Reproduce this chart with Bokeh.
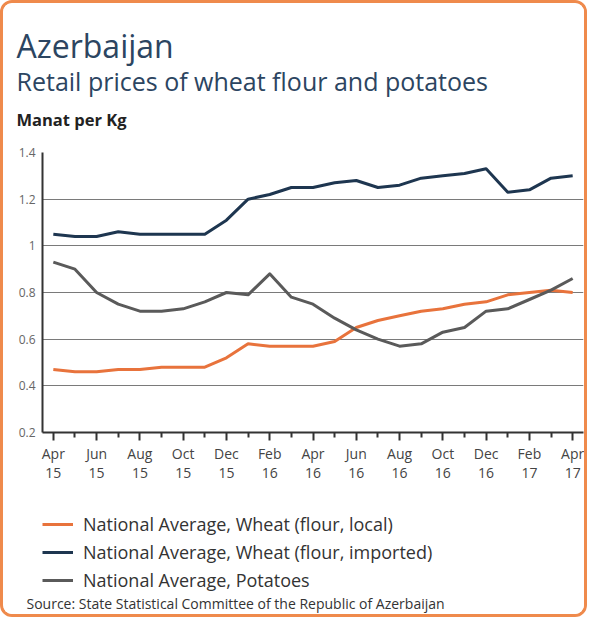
from bokeh.plotting import figure
from bokeh.layouts import column
from bokeh.models import (FixedTicker, LinearAxis, Legend, LegendItem,
                          Label, Range1d)
from bokeh.embed import file_html
from bokeh.resources import INLINE

# ---------------- data ----------------
months = list(range(25))  # Apr 2015 .. Apr 2017, monthly
tick_months = ["Apr", "Jun", "Aug", "Oct", "Dec", "Feb", "Apr",
               "Jun", "Aug", "Oct", "Dec", "Feb", "Apr"]
tick_years = ["15", "15", "15", "15", "15", "16", "16",
              "16", "16", "16", "16", "17", "17"]

wheat_local = [0.47, 0.46, 0.46, 0.47, 0.47, 0.48, 0.48, 0.48, 0.52, 0.58,
               0.57, 0.57, 0.57, 0.59, 0.65, 0.68, 0.70, 0.72, 0.73, 0.75,
               0.76, 0.79, 0.80, 0.81, 0.80]
wheat_imported = [1.05, 1.04, 1.04, 1.06, 1.05, 1.05, 1.05, 1.05, 1.11, 1.20,
                  1.22, 1.25, 1.25, 1.27, 1.28, 1.25, 1.26, 1.29, 1.30, 1.31,
                  1.33, 1.23, 1.24, 1.29, 1.30]
potatoes = [0.93, 0.90, 0.80, 0.75, 0.72, 0.72, 0.73, 0.76, 0.80, 0.79,
            0.88, 0.78, 0.75, 0.69, 0.64, 0.60, 0.57, 0.58, 0.63, 0.65,
            0.72, 0.73, 0.77, 0.81, 0.86]

y_ticks = [0.2, 0.4, 0.6, 0.8, 1.0, 1.2, 1.4]
y_tick_labels = ["0.2", "0.4", "0.6", "0.8", "1", "1.2", "1.4"]

series_names = ["National Average, Wheat (flour, local)",
                "National Average, Wheat (flour, imported)",
                "National Average, Potatoes"]
series_colors = ["#e8733c", "#1e3650", "#5a5a5a"]
series_values = [wheat_local, wheat_imported, potatoes]

title_text = "Azerbaijan"
subtitle_text = "Retail prices of wheat flour and potatoes"
unit_text = "Manat per Kg"
source_text = "Source: State Statistical Committee of the Republic of Azerbaijan"

# ---------------- layout ----------------
BW = 3                       # css border width
W = 587 - 2 * BW             # 581
H_HEAD, H_CHART, H_FOOT = 137, 350, 124
FONT = "Open Sans"
TITLE_COLOR = "#2c4561"


def blank_figure(h):
    f = figure(width=W, height=h, output_backend="svg", toolbar_location=None,
               x_range=Range1d(1000, 1001), y_range=Range1d(1000, 1001),
               x_axis_type=None, y_axis_type=None,
               min_border_left=0, min_border_right=0,
               min_border_top=0, min_border_bottom=0)
    f.frame_align = False
    f.title = None
    f.outline_line_color = None
    f.xgrid.visible = False
    f.ygrid.visible = False
    f.background_fill_color = "white"
    f.border_fill_color = "white"
    return f


def screen_label(f, h, text, x, baseline_from_top, size, color, style="normal"):
    f.add_layout(Label(x=x, y=h - baseline_from_top,
                       x_units="screen", y_units="screen", text=text,
                       text_font=FONT, text_font_size=size,
                       text_color=color, text_font_style=style,
                       text_align="left", text_baseline="alphabetic"))


# ---------- header ----------
head = blank_figure(H_HEAD)
screen_label(head, H_HEAD, title_text, 13, 42, "32px", TITLE_COLOR)
screen_label(head, H_HEAD, subtitle_text, 13, 77, "25px", TITLE_COLOR)
screen_label(head, H_HEAD, unit_text, 13, 116, "16.5px", "#222222", "bold")

# ---------- chart ----------
p = figure(width=W, height=H_CHART, output_backend="svg",
           toolbar_location=None,
           x_range=Range1d(-0.5, 24.5), y_range=Range1d(0.2, 1.4),
           min_border_left=39, min_border_right=1,
           min_border_top=12, min_border_bottom=58)
p.frame_align = False
p.title = None
p.outline_line_color = None
p.background_fill_color = "white"
p.border_fill_color = "white"
p.xgrid.visible = False
p.ygrid.grid_line_color = "#7a7a7a"
p.ygrid.grid_line_width = 1
p.ygrid.ticker = FixedTicker(ticks=y_ticks)

ya = p.yaxis[0]
ya.ticker = FixedTicker(ticks=y_ticks)
ya.major_label_overrides = {t: l for t, l in zip(y_ticks, y_tick_labels)}
ya.major_tick_out = 0
ya.major_tick_in = 0
ya.minor_tick_out = 0
ya.minor_tick_in = 0
ya.axis_line_color = "#333333"
ya.axis_line_width = 2
ya.major_label_standoff = 7
ya.major_label_text_font = FONT
ya.major_label_text_font_size = "12px"
ya.major_label_text_color = "#666666"

even = months[::2]
odd = months[1::2]
xa = p.xaxis[0]
xa.ticker = FixedTicker(ticks=even, minor_ticks=odd)
xa.major_label_overrides = {m: l for m, l in zip(even, tick_months)}
xa.axis_line_color = "#333333"
xa.axis_line_width = 2
xa.major_tick_line_color = "#333333"
xa.major_tick_line_width = 2
xa.major_tick_out = 8
xa.major_tick_in = 0
xa.minor_tick_line_color = "#333333"
xa.minor_tick_line_width = 2
xa.minor_tick_out = 5
xa.minor_tick_in = 0
xa.major_label_standoff = 3
xa.major_label_text_font = FONT
xa.major_label_text_font_size = "14px"
xa.major_label_text_color = "#444444"

xa2 = LinearAxis(ticker=FixedTicker(ticks=even, minor_ticks=[]),
                 major_label_overrides={m: l for m, l in zip(even, tick_years)})
xa2.axis_line_color = None
xa2.major_tick_line_color = None
xa2.minor_tick_line_color = None
xa2.major_tick_out = 0
xa2.major_tick_in = 0
xa2.major_label_standoff = 2
xa2.major_label_text_font = FONT
xa2.major_label_text_font_size = "14px"
xa2.major_label_text_color = "#444444"
p.add_layout(xa2, "below")

for ys, c in zip(series_values, series_colors):
    p.line(months, ys, line_color=c, line_width=3, line_join="round")

# ---------- footer (legend + source) ----------
foot = blank_figure(H_FOOT)
legend_renderers = []
for ys, c in zip(series_values, series_colors):
    # same series, drawn outside the footer's visible range: only the legend shows
    legend_renderers.append(foot.line(months, ys, line_color=c, line_width=3))

legend = Legend(items=[LegendItem(label=n, renderers=[r])
                       for n, r in zip(series_names, legend_renderers)],
                location=(39, 20), orientation="vertical")
legend.padding = 0
legend.margin = 0
legend.spacing = 0
legend.glyph_width = 31
legend.glyph_height = 28
legend.label_height = 28
legend.label_standoff = 10
legend.label_text_font = FONT
legend.label_text_font_size = "18px"
legend.label_text_color = "#333333"
legend.border_line_color = None
legend.background_fill_alpha = 0
foot.add_layout(legend)

screen_label(foot, H_FOOT, source_text, 23, 113, "14px", "#333333")

page = column(head, p, foot, spacing=0)
page.styles = {"border": f"{BW}px solid #ef8a4c", "border-radius": "12px",
               "box-sizing": "content-box", "overflow": "hidden",
               "background-color": "white"}

open("out.html", "w").write(file_html(page, INLINE))
